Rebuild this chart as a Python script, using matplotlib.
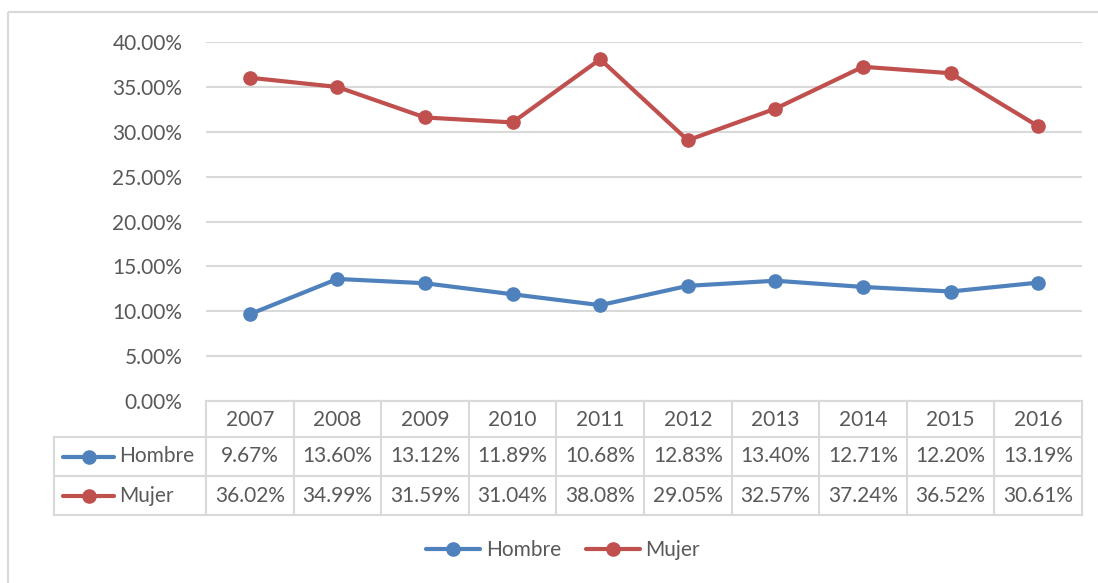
import matplotlib
matplotlib.use("Agg")
import matplotlib.pyplot as plt
from matplotlib.lines import Line2D
from matplotlib.patches import Rectangle

years = ["2007", "2008", "2009", "2010", "2011", "2012", "2013", "2014", "2015", "2016"]
hombre = [9.67, 13.60, 13.12, 11.89, 10.68, 12.83, 13.40, 12.71, 12.20, 13.19]
mujer = [36.02, 34.99, 31.59, 31.04, 38.08, 29.05, 32.57, 37.24, 36.52, 30.61]
series_names = ["Hombre", "Mujer"]
yticks = [0, 5, 10, 15, 20, 25, 30, 35, 40]

BLUE = "#4f81bd"
RED = "#c0504d"
GRID = "#d9d9d9"
TXT = "#595959"
FONT = "Lato"
FS = 15

plt.rcParams['font.family'] = [FONT, 'DejaVu Sans']

W, H = 1098, 583
fig = plt.figure(figsize=(W / 100, H / 100), dpi=100)

# Overlay axes in pixel coordinates for the table and border
ov = fig.add_axes([0, 0, 1, 1])
ov.set_xlim(0, W)
ov.set_ylim(H, 0)
ov.axis("off")
ov.add_patch(Rectangle((8, 12), W + 10, H + 10, fill=False, edgecolor=GRID, lw=1.5))

# Main plot area
L, R, T, B = 206, 1082, 42, 401
ax = fig.add_axes([L / W, 1 - B / H, (R - L) / W, (B - T) / H])
x = list(range(len(years)))
ax.plot(x, hombre, color=BLUE, lw=3, marker="o", ms=9.5, solid_capstyle="round", zorder=3)
ax.plot(x, mujer, color=RED, lw=3, marker="o", ms=9.5, solid_capstyle="round", zorder=3)
ax.set_xlim(-0.5, len(years) - 0.5)
ax.set_ylim(0, 40)
ax.set_yticks(yticks)
ax.set_yticklabels([f"{v:.2f}%" for v in yticks], color=TXT, fontsize=FS)
ax.tick_params(axis="y", length=0, pad=17)
ax.set_xticks([])
ax.grid(axis="y", color=GRID, lw=1.5)
ax.set_axisbelow(True)
for s in ax.spines.values():
    s.set_visible(False)
ax.patch.set_alpha(0)

# Data table
col_w = (R - L) / len(years)
rows_y = [401, 437, 476, 515]
tleft = 54
lc = dict(color=GRID, lw=1.5)
ov.plot([L, R], [rows_y[0], rows_y[0]], **lc)
for yy in rows_y[1:]:
    ov.plot([tleft, R], [yy, yy], **lc)
for i in range(len(years) + 1):
    xx = L + i * col_w
    ov.plot([xx, xx], [rows_y[0], rows_y[-1]], **lc)
ov.plot([tleft, tleft], [rows_y[1], rows_y[-1]], **lc)

for i, yr in enumerate(years):
    cx = L + (i + 0.5) * col_w
    ov.text(cx, (rows_y[0] + rows_y[1]) / 2 + 1, yr, ha="center", va="center", color=TXT, fontsize=FS)
    ov.text(cx, (rows_y[1] + rows_y[2]) / 2, f"{hombre[i]:.2f}%", ha="center", va="center", color=TXT, fontsize=FS)
    ov.text(cx, (rows_y[2] + rows_y[3]) / 2, f"{mujer[i]:.2f}%", ha="center", va="center", color=TXT, fontsize=FS)

for name, col, r in [(series_names[0], BLUE, 1), (series_names[1], RED, 2)]:
    cy = (rows_y[r] + rows_y[r + 1]) / 2
    ov.plot([63, 114], [cy, cy], color=col, lw=3, solid_capstyle="round")
    ov.plot([88.5], [cy], color=col, marker="o", ms=9.5)
    ov.text(119, cy, name, ha="left", va="center", color=TXT, fontsize=FS)

# Bottom legend
handles = [Line2D([], [], color=BLUE, lw=3, marker="o", ms=9.5, solid_capstyle="round"),
           Line2D([], [], color=RED, lw=3, marker="o", ms=9.5, solid_capstyle="round")]
leg = fig.legend(handles, series_names, loc="center", bbox_to_anchor=(563 / W, 1 - 550 / H),
                 ncol=2, frameon=False, fontsize=FS, handlelength=2.6, handletextpad=0.25,
                 columnspacing=1.2)
for t in leg.get_texts():
    t.set_color(TXT)

fig.savefig("out.png", dpi=100)
